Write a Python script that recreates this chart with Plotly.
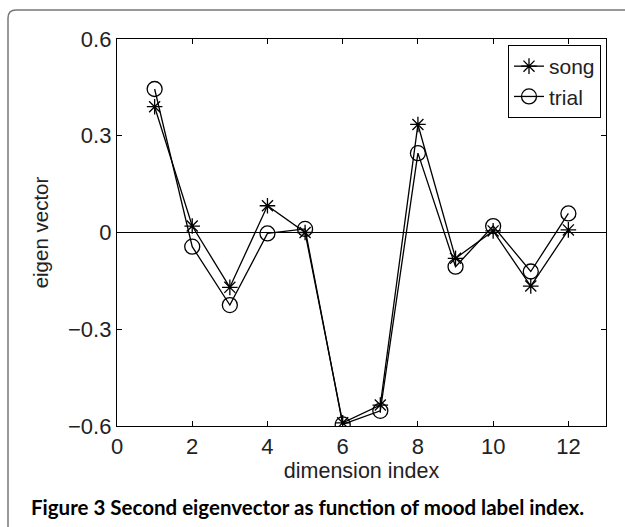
import plotly.graph_objects as go

dims = [1, 2, 3, 4, 5, 6, 7, 8, 9, 10, 11, 12]
song = [0.39, 0.02, -0.17, 0.083, 0.0, -0.59, -0.535, 0.335, -0.08, 0.005, -0.166, 0.008]
trial = [0.445, -0.044, -0.225, -0.003, 0.011, -0.595, -0.553, 0.246, -0.106, 0.02, -0.121, 0.059]
xticks = [0, 2, 4, 6, 8, 10, 12]
yticks = [-0.6, -0.3, 0, 0.3, 0.6]
ytick_text = ["\u22120.6", "\u22120.3", "0", "0.3", "0.6"]

W, H = 625, 527
L, R, T, B = 117, 19, 39, 101
pw, ph = W - L - R, H - T - B

def px(x):
    return (x - L) / pw

def py(y):
    return (H - B - y) / ph

fig = go.Figure()
fig.add_trace(go.Scatter(
    x=dims, y=song, name="song", mode="lines+markers",
    line=dict(color="black", width=1.3),
    marker=dict(symbol="asterisk-open", size=13, color="black",
                line=dict(color="black", width=1.3)),
))
fig.add_trace(go.Scatter(
    x=dims, y=trial, name="trial", mode="lines+markers",
    line=dict(color="black", width=1.3),
    marker=dict(symbol="circle-open", size=15, color="black",
                line=dict(color="black", width=1.3)),
))

font = "Liberation Sans, Arial, sans-serif"
txt = "#222"
axis_common = dict(
    showline=True, linecolor="black", linewidth=1.3, mirror="ticks",
    ticks="inside", ticklen=5, tickcolor="black", tickwidth=1,
    showgrid=False, tickfont=dict(family=font, size=22, color=txt),
)
fig.update_xaxes(range=[0, 13], tickvals=xticks, zeroline=False,
                 title=dict(text="dimension index", font=dict(family=font, size=21.5, color=txt), standoff=2),
                 **axis_common)
fig.update_yaxes(range=[-0.6, 0.6], tickvals=yticks, ticktext=ytick_text,
                 zeroline=True, zerolinecolor="black", zerolinewidth=1,
                 title=dict(text="eigen vector", font=dict(family=font, size=20.5, color=txt), standoff=13),
                 **axis_common)

r = 8
x0, y0 = px(8), py(10)
x1, y1 = px(W + 20), py(H + 20)
rx, ry = r / pw, r / ph
path = (f"M {x0},{y1} L {x0},{y0 - ry} Q {x0},{y0} {x0 + rx},{y0} L {x1},{y0}")
fig.add_shape(type="path", path=path, xref="paper", yref="paper",
              line=dict(color="#777", width=1.5), layer="below")

fig.add_annotation(
    text="<b>Figure 3 Second eigenvector as function of mood label index.</b>",
    xref="paper", yref="paper", x=px(29), y=py(507), xanchor="left", yanchor="middle",
    showarrow=False, font=dict(family="Lato, sans-serif", size=20.5, color="black"),
)

fig.update_layout(
    width=W, height=H,
    margin=dict(l=L, r=R, t=T, b=B),
    paper_bgcolor="white", plot_bgcolor="white",
    showlegend=True,
    legend=dict(x=1 - (606 - 601) / pw, y=1 - (45 - 39) / ph, xanchor="right", yanchor="top",
                bordercolor="black", borderwidth=1, bgcolor="white",
                font=dict(family=font, size=21, color=txt),
                itemwidth=30, tracegroupgap=0),
)

fig.write_html("out.html")
